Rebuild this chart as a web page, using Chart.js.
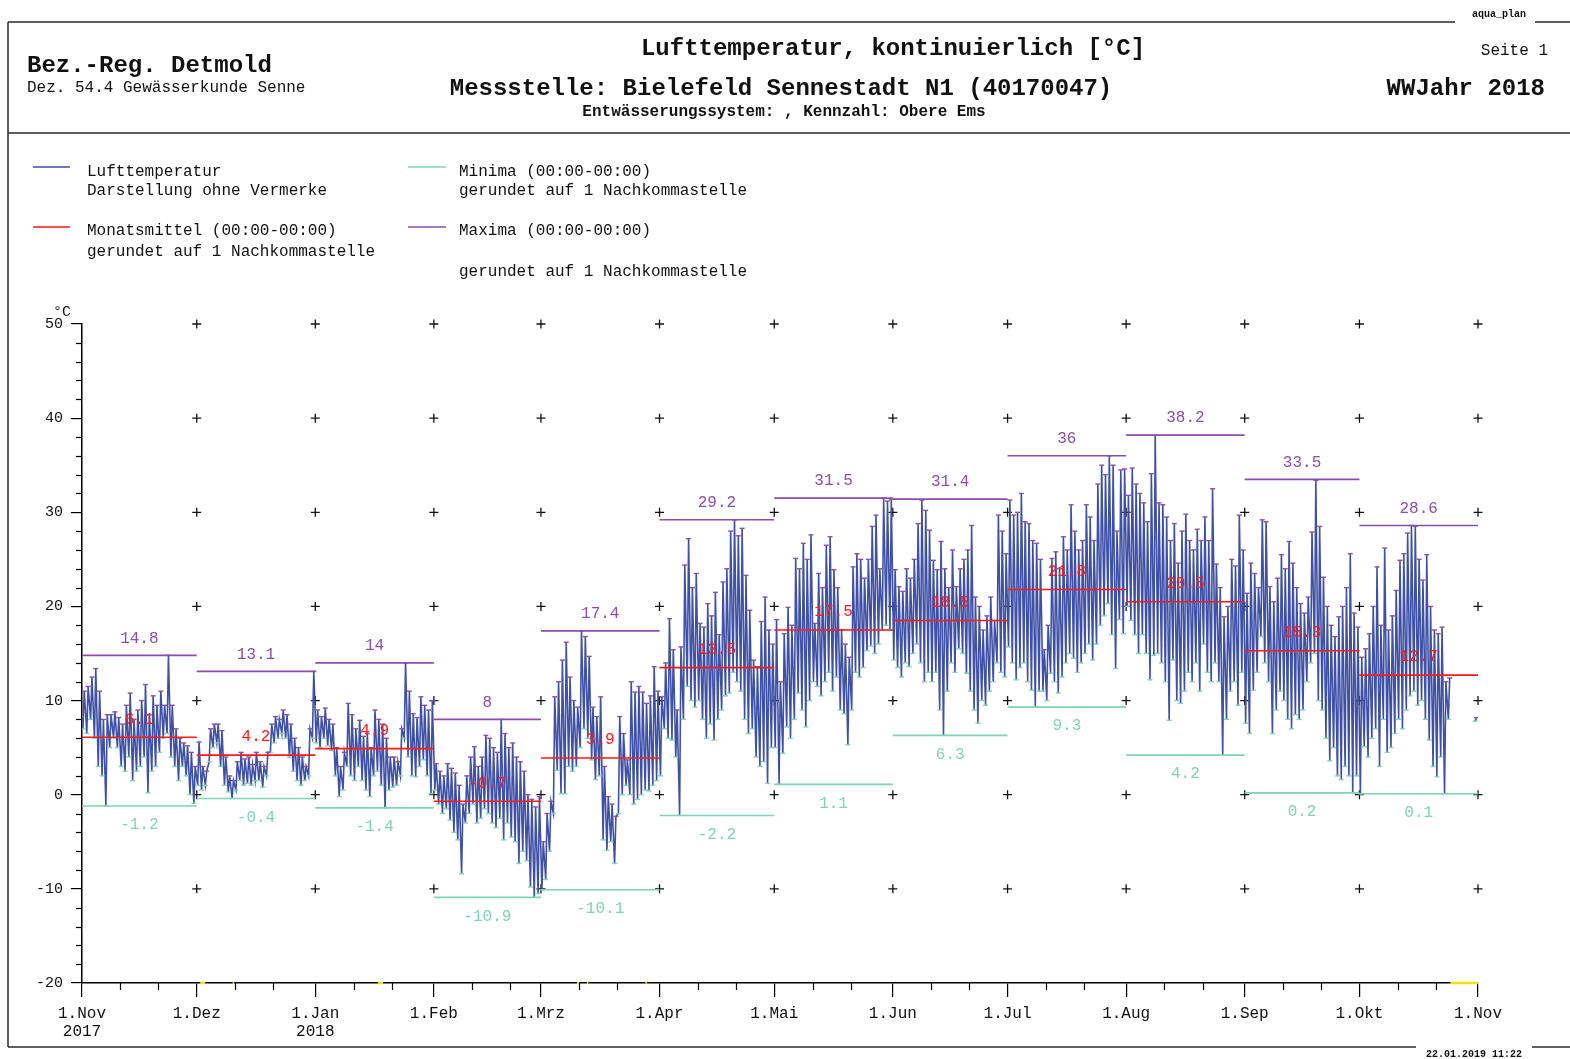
<!DOCTYPE html>
<html lang="de">
<head>
<meta charset="utf-8">
<title>Lufttemperatur Bielefeld Sennestadt N1</title>
<script src="https://cdn.jsdelivr.net/npm/chart.js@4.4.1/dist/chart.umd.min.js"></script>
<style>
  html, body { margin: 0; padding: 0; background: #fff; }
  canvas { display: block; }
</style>
</head>
<body>
<canvas id="chart" width="1570" height="1059"></canvas>
<script>
const FONT = '"Liberation Mono", "DejaVu Sans Mono", monospace';

// Monatsgrenzen in Tagen ab 1.11.2017
const monthStarts = [0, 30, 61, 92, 120, 151, 181, 212, 242, 273, 304, 334, 365];
const tickLabels = [["1.Nov", "2017"], "1.Dez", ["1.Jan", "2018"], "1.Feb", "1.Mrz", "1.Apr", "1.Mai", "1.Jun", "1.Jul", "1.Aug", "1.Sep", "1.Okt", "1.Nov"];
const yTicks = [-20, -10, 0, 10, 20, 30, 40, 50];

const monthMean = [6.1, 4.2, 4.9, -0.7, 3.9, 13.5, 17.5, 18.5, 21.8, 20.5, 15.3, 12.7];
const monthMax = [14.8, 13.1, 14, 8, 17.4, 29.2, 31.5, 31.4, 36, 38.2, 33.5, 28.6];
const monthMin = [-1.2, -0.4, -1.4, -10.9, -10.1, -2.2, 1.1, 6.3, 9.3, 4.2, 0.2, 0.1];

// Tageswerte
const maxNov = [11, 11.5, 12.5, 13.4, 11, 8, 8.5, 8.5, 8.8, 8.2, 7.5, 9.5, 10.8, 8, 9, 10, 11.7, 8.5, 10.5, 9.5, 11, 9.5, 14.8, 9.5, 7, 6, 5.5, 5.2, 4.5, 3];
const minNov = [7, 6.5, 8, 6, 3, 2, -1.2, 5, 6, 5, 3, 2.5, 4, 1.5, 2.5, 3, 4, 0.2, 2.5, 3, 4.5, 6, 6.5, 4, 3, 1.5, 3, 2, 0, -0.9];
const maxDez = [5.6, 3, 2.5, 7, 7.5, 7.5, 6.8, 4, 2, 1.5, 3.5, 4.5, 3.8, 4, 3.2, 4.5, 3.5, 3, 4.5, 7.5, 8.3, 8, 9, 8.5, 7.5, 6, 5, 4, 3, 7, 13.1];
const minDez = [1, 0.5, 1, 3.5, 5, 5.5, 3, 1, 0.3, -0.4, 0.5, 1.5, 1, 1.2, 1, 1.5, 1.5, 0.8, 2, 4.5, 5.5, 6, 6.5, 6, 4, 2.5, 1.5, 1, 1.5, 2, 6];
const maxJan = [9, 8.3, 9.2, 8, 7.5, 5, 3, 4.5, 9.7, 8.5, 7, 7.9, 6.2, 6.5, 5, 9, 8, 7.5, 6, 4, 4, 3.5, 7, 14, 11, 8.6, 8.2, 10.4, 9.5, 9, 10];
const minJan = [5.5, 5, 6, 5.2, 4.7, 2, -0.2, 0.5, 3, 2, 1.5, 3, 1.5, 0.5, -0.2, 2, 2.5, 1, -1.4, 0.5, 0.8, 1, 2, 6, 4, 2, 1.9, 3, 3.7, 2, 0.1];
const maxFeb = [3.3, 2.5, 2, 3.3, 2.8, 2.3, 1, -1, 2, 4, 5.1, 3, 4, 6.3, 6, 5, 4.5, 8, 6.5, 5, 5.5, 4, 3.5, 2.5, 0, -0.5, -1.3, -0.2];
const minFeb = [0.5, -1, -2, -1.5, -2.7, -4, -4.8, -8.4, -3, -2, -1, -3, -2.5, -1.5, -2, -3, -3.5, -2.5, -4.8, -3, -4.5, -5, -7.3, -6, -7, -9.8, -10.9, -10.5];
const maxMrz = [-5, -2, -0.7, 10.4, 12, 14.3, 16.2, 12.5, 10, 9.3, 17.4, 16.8, 14.7, 9.3, 8.3, 10.4, 3, -0.2, -1, -2.3, 8.3, 6.5, 3.7, 12, 10.9, 11.5, 10.9, 9.7, 10.5, 13.6, 11];
const minMrz = [-10.1, -9, -6, -2, 2.6, 0.1, 0.1, 3, 2.5, 3, 5, 7, 6, 3.7, 1.6, 2, -4.8, -5.9, -5, -7.3, -2, 0, 1, 0, -1, -0.5, 0, 0.5, 0.4, 1, 1.5];
const maxApr = [10.4, 14, 18.7, 15.4, 9, 15.7, 24.4, 27.2, 22, 23.5, 18.2, 17.8, 20.3, 19, 21.5, 17, 22.6, 24, 28, 29.2, 27.5, 28.3, 23.3, 19.6, 14.3, 13.6, 18.4, 21, 17.5, 16];
const minApr = [2, 7, 6, 5.8, 4, -2.2, 8, 11.5, 10, 9.3, 10, 8, 6, 7.5, 5.8, 8, 9, 10.5, 10.8, 13, 12, 11, 8, 6.5, 7, 4, 3, 3.5, 1.2, 5];
const maxMai = [18.6, 12, 17.1, 19.9, 18, 25.1, 24, 26.7, 25, 27.6, 18.2, 23.5, 22, 26.5, 27.4, 23.9, 22, 17.5, 16, 14.6, 24.2, 25.6, 25, 23, 25, 28.5, 29.7, 24, 31.5, 31.2, 31.4];
const minMai = [5, 1.1, 4.4, 7.2, 6, 8, 10.8, 9, 7.2, 10, 12, 11.5, 10.5, 12, 13, 11, 12.5, 9, 8.6, 5.3, 9, 13, 12.5, 13.5, 15.3, 15.8, 15, 16, 17.5, 18, 17.5];
const maxJun = [23.9, 22.1, 21.6, 24, 23, 25, 28.8, 31.3, 30.2, 28.1, 24.9, 23.9, 26.9, 24, 22, 26, 22.1, 24, 25, 26, 28.6, 21, 20, 17.5, 19, 21, 18.5, 29.7, 28, 25.6];
const minJun = [14.3, 13.5, 12.5, 14, 13.6, 15, 16, 14, 12, 13, 12, 13, 9, 6.3, 11, 14, 13, 15.5, 15, 12.9, 11, 9, 7.6, 10, 9.5, 11, 12, 14, 13, 12.5];
const maxJul = [31.3, 29.7, 30, 32, 29, 28.8, 27, 26.7, 25, 15.4, 18, 25.1, 25.8, 24, 27.4, 26, 30.8, 28, 26, 27, 30.8, 29.5, 27, 33, 35, 34, 36, 35, 28, 34.5, 34.6];
const minJul = [15.7, 14, 12.2, 13.5, 14, 12, 11.1, 9.3, 11, 11, 10, 12.9, 12, 10.8, 12.5, 14, 15, 14.5, 13, 14, 15, 16, 14.3, 16, 18, 19, 20.3, 17, 13.4, 18.6, 17.1];
const maxAug = [31.8, 34.7, 33, 32, 31, 29, 34.1, 38.2, 31, 30.8, 29.5, 27, 28.8, 24.6, 28, 29.8, 27, 26, 28.2, 27, 29.5, 27, 32.5, 24.5, 22, 18.9, 20, 25, 24.3, 29.7, 26];
const minAug = [20, 18.5, 17, 15, 17, 15, 12.2, 14.8, 15, 14, 12, 7.9, 14.3, 10, 9.7, 11, 13, 12, 14, 11, 16, 13, 12, 14, 12, 4.2, 8, 11, 12, 9.5, 13];
const maxSep = [21.4, 24.6, 23.5, 22, 29.2, 29, 22.1, 20.5, 23, 25.5, 24, 26.9, 24.6, 22, 20.3, 19.3, 21, 27.9, 33.4, 28.5, 23.1, 20, 18, 16.8, 18.9, 20, 22, 25.6, 19.3, 17.8];
const minSep = [7.6, 6.5, 11.1, 13, 16.8, 14, 12, 6.5, 9, 11, 10, 8, 7, 8.5, 8, 9, 12, 14, 15, 10, 9, 6, 3.6, 5, 2, 1.6, 3, 2, 0.2, 2];
const maxOkt = [14.6, 15.5, 17.1, 20, 24.2, 18, 26.2, 17.5, 19, 21.7, 24.9, 25.6, 27.8, 28.6, 28.5, 25, 22.8, 25.5, 20, 17.5, 17.1, 17.8, 12, 12.4, null, null, null, null, null, null, 8.2];
const minOkt = [0.1, 5.1, 4, 6, 7, 3, 8, 4.5, 5, 6.5, 8, 7, 9, 10.5, 11, 9.5, 10, 8, 5.8, 3, 1.9, 4, 0.1, 8, null, null, null, null, null, null, 7.8];

// Luecken in der Messreihe (gelb an der Zeitachse)
const gapRanges = [[30.9, 32.2], [39.4, 39.8], [77.4, 78.7], [129.4, 130], [132, 132.4], [147.3, 147.7], [357.8, 365]];

const colMean = "#ff1a1a";
const colMax = "#8a4fae";
const colMin = "#7fd3b6";
const colTemp = "#3f51a6";

const dailyMax = [maxNov, maxDez, maxJan, maxFeb, maxMrz, maxApr, maxMai, maxJun, maxJul, maxAug, maxSep, maxOkt];
const dailyMin = [minNov, minDez, minJan, minFeb, minMrz, minApr, minMai, minJun, minJul, minAug, minSep, minOkt];

const tempLine = [];
const maxMarks = [];
const minMarks = [];
dailyMax.forEach((arr, m) => {
  arr.forEach((hi, d) => {
    const day = monthStarts[m] + d;
    const lo = dailyMin[m][d];
    if (hi === null) {
      tempLine.push({ x: day + 0.4, y: null });
      return;
    }
    tempLine.push({ x: day + 0.25, y: lo }, { x: day + 0.6, y: hi });
    minMarks.push({ x: day + 0.25, y: lo });
    maxMarks.push({ x: day + 0.6, y: hi });
  });
});

function monthSegments(values) {
  const pts = [];
  values.forEach((v, i) => {
    pts.push({ x: monthStarts[i], y: v }, { x: monthStarts[i + 1], y: v }, { x: monthStarts[i + 1], y: null });
  });
  return pts;
}

const crosses = [];
monthStarts.slice(1).forEach((x) => {
  yTicks.slice(1).forEach((y) => crosses.push({ x: x, y: y }));
});

const gapLine = [];
gapRanges.forEach((g) => {
  gapLine.push({ x: g[0], y: -20 }, { x: g[1], y: -20 }, { x: g[1], y: null });
});

const fmt = (v) => String(v);

// Kopf, Rahmen und Legende
const kopf = {
  id: "kopf",
  beforeDraw(chart) {
    const c = chart.ctx;
    c.save();
    c.fillStyle = "#fff";
    c.fillRect(0, 0, chart.width, chart.height);
    const seg = (x1, y1, x2, y2, col, w) => {
      c.beginPath();
      c.strokeStyle = col || "#2a2a2a";
      c.lineWidth = w || 1.5;
      c.moveTo(x1, y1);
      c.lineTo(x2, y2);
      c.stroke();
    };
    seg(8, 22, 1455, 22);
    seg(1535, 22, 1570, 22);
    seg(8, 22, 8, 1047);
    seg(8, 133, 1570, 133);
    seg(8, 1047, 1416, 1047);
    seg(1532, 1047, 1570, 1047);

    const txt = (s, x, y, size, bold, align, col) => {
      c.font = (bold ? "bold " : "") + size + "px " + FONT;
      c.textAlign = align || "left";
      c.textBaseline = "middle";
      c.fillStyle = col || "#111";
      c.fillText(s, x, y);
    };
    txt("aqua_plan", 1499, 14, 10, true, "center");
    txt("22.01.2019 11:22", 1474, 1054, 10, true, "center");
    txt("Bez.-Reg. Detmold", 27, 66, 24, true);
    txt("Dez. 54.4 Gewässerkunde Senne", 27, 88, 16, false);
    txt("Lufttemperatur, kontinuierlich [°C]", 893, 49, 24, true, "center");
    txt("Messstelle: Bielefeld Sennestadt N1 (40170047)", 781, 89, 24, true, "center");
    txt("Entwässerungssystem: , Kennzahl: Obere Ems", 784, 112, 16, true, "center");
    txt("Seite 1", 1548, 51, 16, false, "right");
    txt("WWJahr 2018", 1545, 89, 24, true, "right");

    // Legende
    seg(33, 167, 70, 167, colTemp, 1.5);
    seg(33, 227, 70, 227, colMean, 1.5);
    seg(408, 167, 446, 167, colMin, 1.5);
    seg(408, 227, 446, 227, colMax, 1.5);
    txt("Lufttemperatur", 87, 172, 16);
    txt("Darstellung ohne Vermerke", 87, 191, 16);
    txt("Monatsmittel (00:00-00:00)", 87, 231, 16);
    txt("gerundet auf 1 Nachkommastelle", 87, 252, 16);
    txt("Minima (00:00-00:00)", 459, 172, 16);
    txt("gerundet auf 1 Nachkommastelle", 459, 191, 16);
    txt("Maxima (00:00-00:00)", 459, 231, 16);
    txt("gerundet auf 1 Nachkommastelle", 459, 272, 16);

    txt("°C", 62, 312, 15, false, "center");
    c.restore();
  },
  afterDraw(chart) {
    const c = chart.ctx;
    const xs = chart.scales.x;
    const ys = chart.scales.y;
    c.save();
    c.strokeStyle = "#000";
    c.lineWidth = 1.2;
    // Nebenstriche: 11. und 21. jedes Monats
    monthStarts.slice(0, -1).forEach((m) => {
      [10, 20].forEach((off) => {
        const px = Math.round(xs.getPixelForValue(m + off)) + 0.5;
        c.beginPath();
        c.moveTo(px, ys.bottom);
        c.lineTo(px, ys.bottom + 7);
        c.stroke();
      });
    });
    for (let v = -20; v <= 50; v += 2) {
      if (v % 10 === 0) continue;
      const py = Math.round(ys.getPixelForValue(v)) + 0.5;
      c.beginPath();
      c.moveTo(xs.left, py);
      c.lineTo(xs.left - 6, py);
      c.stroke();
    }
    c.restore();
  },
  afterDatasetsDraw(chart) {
    const c = chart.ctx;
    const xs = chart.scales.x;
    const ys = chart.scales.y;
    c.save();
    c.font = "16px " + FONT;
    c.textAlign = "center";
    c.textBaseline = "middle";
    monthMean.forEach((v, i) => {
      const xc = (xs.getPixelForValue(monthStarts[i]) + xs.getPixelForValue(monthStarts[i + 1])) / 2;
      c.fillStyle = colMax;
      c.fillText(fmt(monthMax[i]), xc, ys.getPixelForValue(monthMax[i]) - 17);
      c.fillStyle = colMin;
      c.fillText(fmt(monthMin[i]), xc, ys.getPixelForValue(monthMin[i]) + 19);
      c.fillStyle = colMean;
      c.fillText(fmt(v), xc, ys.getPixelForValue(v) - 18);
    });
    c.restore();
  }
};

new Chart(document.getElementById("chart"), {
  type: "line",
  data: {
    datasets: [
      { label: "Monatsmittel", data: monthSegments(monthMean), borderColor: colMean, borderWidth: 1.6, pointRadius: 0 },
      { label: "Maxima", data: monthSegments(monthMax), borderColor: colMax, borderWidth: 1.6, pointRadius: 0 },
      { label: "Minima", data: monthSegments(monthMin), borderColor: colMin, borderWidth: 1.6, pointRadius: 0 },
      { label: "Tagesmaxima", data: maxMarks, showLine: false, pointStyle: "line", pointRadius: 2.5, pointBorderWidth: 1.4, pointBorderColor: colMax },
      { label: "Tagesminima", data: minMarks, showLine: false, pointStyle: "line", pointRadius: 2.5, pointBorderWidth: 1.4, pointBorderColor: colMin },
      { label: "Lufttemperatur", data: tempLine, borderColor: colTemp, borderWidth: 1.6, pointRadius: 0, tension: 0 },
      { label: "Raster", data: crosses, showLine: false, pointStyle: "cross", pointRadius: 4.5, pointBorderWidth: 1.3, pointBorderColor: "#111", clip: false },
      { label: "Luecken", data: gapLine, borderColor: "#f2e200", borderWidth: 2.5, pointRadius: 0, clip: false }
    ]
  },
  options: {
    responsive: false,
    animation: false,
    devicePixelRatio: 1,
    layout: { padding: { left: 0, right: 92, top: 324, bottom: 0 } },
    plugins: {
      legend: { display: false },
      tooltip: { enabled: false }
    },
    scales: {
      x: {
        type: "linear",
        min: 0,
        max: 365,
        afterBuildTicks: (s) => { s.ticks = monthStarts.map((v) => ({ value: v })); },
        afterFit: (s) => { s.height = 76; },
        ticks: {
          autoSkip: false,
          maxRotation: 0,
          padding: 8,
          color: "#111",
          font: { family: FONT, size: 16, lineHeight: 1.1 },
          callback: (v, i) => tickLabels[i]
        },
        grid: { drawOnChartArea: false, drawTicks: true, tickLength: 14, color: "#000", lineWidth: 1.2 },
        border: { color: "#000", width: 1.5 }
      },
      y: {
        min: -20,
        max: 50,
        afterBuildTicks: (s) => { s.ticks = yTicks.map((v) => ({ value: v })); },
        afterFit: (s) => { s.width = 82; },
        ticks: {
          padding: 8,
          color: "#111",
          font: { family: FONT, size: 15 }
        },
        grid: { drawOnChartArea: false, drawTicks: true, tickLength: 11, color: "#000", lineWidth: 1.2 },
        border: { color: "#000", width: 1.5 }
      }
    }
  },
  plugins: [kopf]
});
</script>
</body>
</html>
